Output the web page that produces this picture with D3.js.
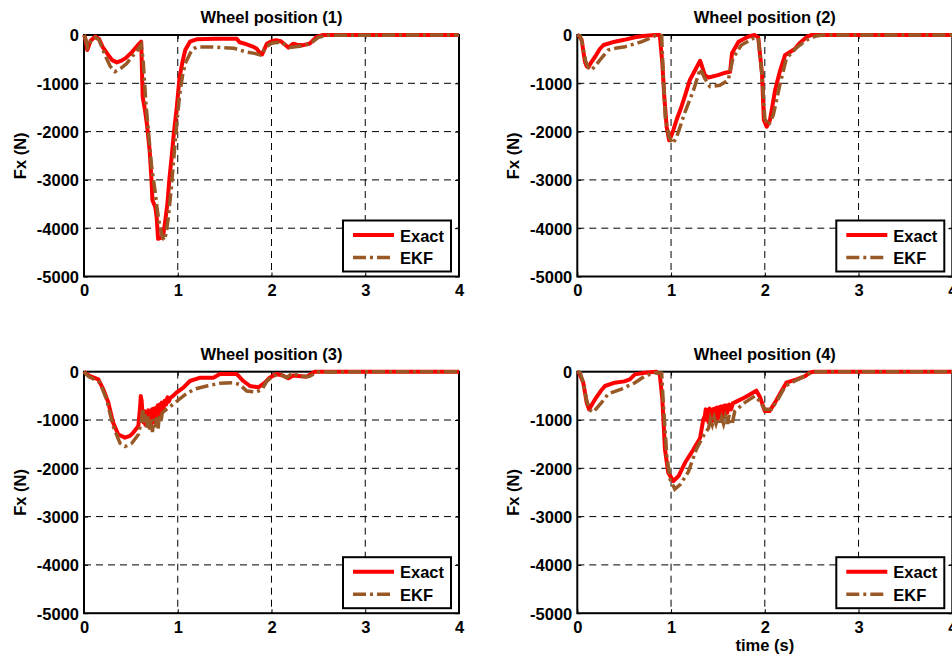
<!DOCTYPE html>
<html>
<head>
<meta charset="utf-8">
<script src="https://cdn.jsdelivr.net/npm/d3@7"></script>
<style>
  html, body { margin: 0; padding: 0; background: #fff; }
  svg { display: block; }
  text { font-family: "Liberation Sans", Arial, sans-serif; font-weight: bold; fill: #000; }
</style>
</head>
<body>
<svg id="chart" width="952" height="658"></svg>
<script>
// ---------------- DATA ----------------
const panelTitles = ["Wheel position (1)", "Wheel position (2)", "Wheel position (3)", "Wheel position (4)"];
const seriesNames = ["Exact", "EKF"];
const xTicks = [0, 1, 2, 3, 4];
const yTicks = [0, -1000, -2000, -3000, -4000, -5000];
const yLabel = "Fx (N)";
const xLabel = "time (s)";

// [time (s), Fx (N)]
const wheel1Exact = [[0,0],[0.01,-40],[0.035,-310],[0.07,-120],[0.12,-30],[0.16,-80],[0.2,-250],[0.26,-415],[0.3,-520],[0.35,-567],[0.4,-530],[0.44,-484],[0.5,-380],[0.53,-311],[0.58,-200],[0.61,-138],[0.626,-1280],[0.65,-1550],[0.67,-1830],[0.7,-2390],[0.72,-3000],[0.73,-3420],[0.76,-3560],[0.775,-3770],[0.79,-4220],[0.82,-4200],[0.845,-4150],[0.87,-3800],[0.89,-3490],[0.91,-3000],[0.935,-2520],[0.96,-2000],[0.99,-1490],[1.02,-865],[1.05,-560],[1.08,-311],[1.13,-138],[1.2,-90],[1.4,-80],[1.63,-80],[1.66,-150],[1.73,-190],[1.8,-240],[1.84,-280],[1.88,-380],[1.9,-400],[1.95,-180],[2.0,-130],[2.05,-110],[2.1,-130],[2.18,-260],[2.23,-180],[2.27,-200],[2.34,-210],[2.41,-175],[2.48,-40],[2.55,0],[4,0]];
const wheel1EKF = [[0,0],[0.02,-100],[0.04,-250],[0.08,-100],[0.12,-50],[0.16,-100],[0.22,-400],[0.28,-650],[0.33,-760],[0.4,-680],[0.455,-590],[0.52,-430],[0.56,-346],[0.61,-200],[0.63,-500],[0.66,-1400],[0.686,-1970],[0.72,-2700],[0.757,-3215],[0.78,-3600],[0.81,-3980],[0.84,-4200],[0.86,-4250],[0.88,-4050],[0.9,-3770],[0.93,-3200],[0.953,-2660],[0.99,-1830],[1.02,-1250],[1.05,-850],[1.08,-590],[1.15,-311],[1.2,-250],[1.4,-250],[1.6,-275],[1.73,-350],[1.82,-380],[1.88,-415],[1.95,-240],[2.0,-170],[2.08,-150],[2.15,-200],[2.2,-260],[2.32,-230],[2.42,-170],[2.5,-50],[2.6,-5],[4,0]];

const wheel2Exact = [[0,0],[0.02,-20],[0.047,-104],[0.065,-350],[0.082,-553],[0.1,-650],[0.117,-671],[0.15,-560],[0.19,-450],[0.24,-290],[0.28,-207],[0.4,-138],[0.5,-100],[0.615,-48],[0.7,-20],[0.83,0],[0.88,0],[0.907,-588],[0.928,-1280],[0.953,-1900],[0.98,-2180],[1.0,-2100],[1.024,-1970],[1.06,-1750],[1.11,-1490],[1.15,-1250],[1.2,-934],[1.25,-750],[1.31,-533],[1.33,-650],[1.36,-830],[1.4,-880],[1.5,-830],[1.58,-780],[1.63,-760],[1.65,-380],[1.72,-138],[1.82,-35],[1.89,0],[1.93,-50],[1.97,-795],[1.99,-1760],[2.02,-1900],[2.055,-1760],[2.11,-1140],[2.16,-760],[2.215,-420],[2.32,-290],[2.37,-173],[2.45,-35],[2.5,0],[4,0]];
const wheel2EKF = [[0,0],[0.03,-20],[0.05,-150],[0.09,-550],[0.12,-680],[0.153,-726],[0.2,-620],[0.24,-520],[0.33,-311],[0.42,-270],[0.51,-242],[0.6,-190],[0.69,-138],[0.78,-60],[0.85,0],[0.9,-20],[0.917,-830],[0.94,-1730],[0.98,-2110],[1.02,-2250],[1.06,-2110],[1.15,-1590],[1.24,-1140],[1.29,-830],[1.31,-700],[1.36,-900],[1.415,-1070],[1.52,-1040],[1.61,-934],[1.66,-484],[1.75,-207],[1.88,-69],[1.93,-60],[1.97,-830],[2.0,-1730],[2.04,-1870],[2.09,-1660],[2.16,-1040],[2.23,-484],[2.34,-260],[2.45,-100],[2.55,-20],[2.62,0],[4,0]];

const wheel3Exact = [[0,0],[0.01,-20],[0.064,-90],[0.153,-158],[0.206,-365],[0.26,-640],[0.31,-1055],[0.366,-1300],[0.437,-1365],[0.49,-1330],[0.526,-1260],[0.58,-1125],[0.6,-700],[0.605,-503],[0.615,-600],[0.625,-917],[0.635,-1050],[0.645,-820],[0.655,-1100],[0.665,-870],[0.675,-1120],[0.685,-800],[0.695,-1060],[0.705,-860],[0.715,-1100],[0.725,-780],[0.735,-1020],[0.745,-760],[0.755,-1050],[0.765,-750],[0.775,-1020],[0.785,-700],[0.795,-900],[0.805,-680],[0.815,-880],[0.83,-640],[0.845,-820],[0.86,-600],[0.875,-680],[0.89,-530],[0.905,-620],[0.92,-540],[0.95,-500],[0.99,-427],[1.06,-330],[1.13,-193],[1.24,-124],[1.38,-124],[1.45,-48],[1.63,-48],[1.7,-193],[1.77,-296],[1.86,-323],[1.93,-228],[1.98,-124],[2.05,-48],[2.12,-80],[2.18,-137],[2.23,-80],[2.375,-103],[2.46,0],[4,0]];
const wheel3EKF = [[0,0],[0.05,-100],[0.1,-150],[0.17,-227],[0.24,-570],[0.31,-1125],[0.384,-1480],[0.437,-1550],[0.51,-1480],[0.58,-1300],[0.615,-990],[0.626,-760],[0.64,-1050],[0.655,-880],[0.67,-1150],[0.685,-920],[0.7,-1200],[0.715,-950],[0.73,-1250],[0.745,-980],[0.76,-1150],[0.775,-950],[0.79,-1180],[0.805,-900],[0.82,-1050],[0.835,-850],[0.88,-780],[0.953,-670],[1.02,-565],[1.09,-460],[1.18,-360],[1.31,-296],[1.45,-240],[1.59,-228],[1.66,-262],[1.735,-400],[1.84,-420],[1.9,-365],[1.95,-193],[2.02,-90],[2.09,-48],[2.16,-124],[2.23,-20],[2.3,-100],[2.4,-100],[2.5,-5],[4,0]];

const wheel4Exact = [[0,0],[0.02,-20],[0.064,-228],[0.1,-640],[0.125,-780],[0.19,-570],[0.25,-400],[0.295,-296],[0.4,-228],[0.5,-200],[0.56,-158],[0.615,-55],[0.72,-20],[0.84,0],[0.88,-55],[0.907,-570],[0.935,-1607],[0.97,-2090],[1.025,-2265],[1.08,-2160],[1.15,-1880],[1.24,-1607],[1.31,-1370],[1.344,-985],[1.36,-920],[1.37,-780],[1.38,-1000],[1.39,-800],[1.4,-1050],[1.41,-760],[1.42,-980],[1.43,-800],[1.44,-1020],[1.45,-770],[1.46,-990],[1.47,-760],[1.48,-1000],[1.49,-740],[1.5,-960],[1.51,-740],[1.52,-950],[1.53,-720],[1.54,-930],[1.55,-720],[1.56,-900],[1.57,-700],[1.58,-880],[1.59,-700],[1.6,-850],[1.62,-680],[1.64,-780],[1.66,-650],[1.68,-635],[1.79,-530],[1.91,-393],[1.95,-530],[2.0,-815],[2.05,-815],[2.11,-635],[2.18,-393],[2.23,-228],[2.34,-158],[2.43,-90],[2.48,-20],[2.52,0],[4,0]];
const wheel4EKF = [[0,0],[0.03,-20],[0.06,-200],[0.1,-600],[0.14,-800],[0.17,-840],[0.26,-635],[0.33,-460],[0.47,-360],[0.615,-228],[0.72,-90],[0.83,-20],[0.9,-30],[0.917,-640],[0.955,-1745],[0.99,-2230],[1.04,-2430],[1.1,-2330],[1.185,-2070],[1.27,-1607],[1.344,-1330],[1.4,-1170],[1.42,-980],[1.44,-1100],[1.46,-950],[1.48,-1080],[1.5,-960],[1.52,-1100],[1.54,-950],[1.56,-1080],[1.58,-930],[1.6,-1080],[1.62,-900],[1.64,-1060],[1.65,-1100],[1.68,-815],[1.79,-635],[1.895,-503],[1.95,-620],[2.0,-780],[2.07,-780],[2.14,-570],[2.22,-296],[2.32,-193],[2.43,-90],[2.5,-10],[2.55,0],[4,0]];

const exactSeries = [wheel1Exact, wheel2Exact, wheel3Exact, wheel4Exact];
const ekfSeries = [wheel1EKF, wheel2EKF, wheel3EKF, wheel4EKF];

// ---------------- LAYOUT ----------------
const svg = d3.select("#chart");
const plotW = 375, plotH = 241.5;
const lefts = [84, 577.3], tops = [35, 371.7];
const exactColor = "#ff0000", ekfColor = "#995926";
const fontSize = 16.5;
const fmt = d => String(d);

panelTitles.forEach((title, i) => {
  const px = lefts[i % 2], py = tops[Math.floor(i / 2)];
  const g = svg.append("g").attr("transform", `translate(${px},${py})`);
  const x = d3.scaleLinear().domain([0, 4]).range([0, plotW]);
  const y = d3.scaleLinear().domain([-5000, 0]).range([plotH, 0]);

  // grid
  g.append("g").selectAll("line").data(xTicks.filter(t => t > 0 && t < 4)).join("line")
    .attr("x1", d => x(d)).attr("x2", d => x(d)).attr("y1", 0).attr("y2", plotH)
    .attr("stroke", "#000").attr("stroke-width", 1).attr("stroke-dasharray", "7,5");
  g.append("g").selectAll("line").data(yTicks.filter(t => t < 0 && t > -5000)).join("line")
    .attr("x1", 0).attr("x2", plotW).attr("y1", d => y(d)).attr("y2", d => y(d))
    .attr("stroke", "#000").attr("stroke-width", 1).attr("stroke-dasharray", "7,5");

  // axes (ticks inside, MATLAB-like)
  const xAxisB = d3.axisBottom(x).tickValues(xTicks).tickSize(-4).tickPadding(8).tickFormat(fmt);
  const yAxisL = d3.axisLeft(y).tickValues(yTicks).tickSize(-4).tickPadding(5).tickFormat(fmt);
  const gx = g.append("g").attr("transform", `translate(0,${plotH})`).call(xAxisB);
  const gy = g.append("g").call(yAxisL);
  g.append("g").call(d3.axisTop(x).tickValues(xTicks).tickSize(-4).tickFormat(""));
  g.append("g").attr("transform", `translate(${plotW},0)`).call(d3.axisRight(y).tickValues(yTicks).tickSize(-4).tickFormat(""));
  g.selectAll(".domain").remove();
  g.selectAll(".tick line").attr("stroke", "#000").attr("stroke-width", 1);
  [gx, gy].forEach(a => a.selectAll("text").style("font-size", fontSize + "px")
    .style("font-family", '"Liberation Sans", Arial, sans-serif').style("font-weight", "bold").attr("fill", "#000"));
  gx.selectAll("text").attr("dy", "0.72em");
  gy.selectAll("text").attr("dy", "0.36em");

  // box
  g.append("rect").attr("x", 0).attr("y", 0).attr("width", plotW).attr("height", plotH)
    .attr("fill", "none").attr("stroke", "#000").attr("stroke-width", 2);

  // lines
  const line = d3.line().x(d => x(d[0])).y(d => y(d[1]));
  g.append("path").datum(exactSeries[i]).attr("d", line)
    .attr("fill", "none").attr("stroke", exactColor).attr("stroke-width", 4).attr("stroke-linejoin", "round");
  g.append("path").datum(ekfSeries[i]).attr("d", line)
    .attr("fill", "none").attr("stroke", ekfColor).attr("stroke-width", 3.5).attr("stroke-dasharray", "13,4,3,4");

  // title
  g.append("text").attr("x", plotW / 2).attr("y", -12).attr("text-anchor", "middle")
    .style("font-size", fontSize + "px").text(title);

  // y label
  g.append("text").attr("transform", `translate(-58,${plotH / 2}) rotate(-90)`).attr("text-anchor", "middle")
    .style("font-size", fontSize + "px").text(yLabel);

  // x label only on last panel
  if (i === 3) {
    g.append("text").attr("x", plotW / 2).attr("y", plotH + 38).attr("text-anchor", "middle")
      .style("font-size", fontSize + "px").text(xLabel);
  }

  // legend
  const lw = 108, lh = 51;
  const lg = g.append("g").attr("transform", `translate(${plotW - 8 - lw},${plotH - 5 - lh})`);
  lg.append("rect").attr("width", lw).attr("height", lh).attr("fill", "#fff").attr("stroke", "#000").attr("stroke-width", 2);
  const items = [{name: seriesNames[0], color: exactColor, dash: null, w: 4}, {name: seriesNames[1], color: ekfColor, dash: "13,4,3,4", w: 3.5}];
  items.forEach((it, k) => {
    const yy = 14.5 + k * 22.5;
    lg.append("line").attr("x1", 10).attr("x2", 51).attr("y1", yy).attr("y2", yy)
      .attr("stroke", it.color).attr("stroke-width", it.w).attr("stroke-dasharray", it.dash);
    lg.append("text").attr("x", 57).attr("y", yy + 6.5).style("font-size", fontSize + "px").text(it.name);
  });
});
</script>
</body>
</html>
